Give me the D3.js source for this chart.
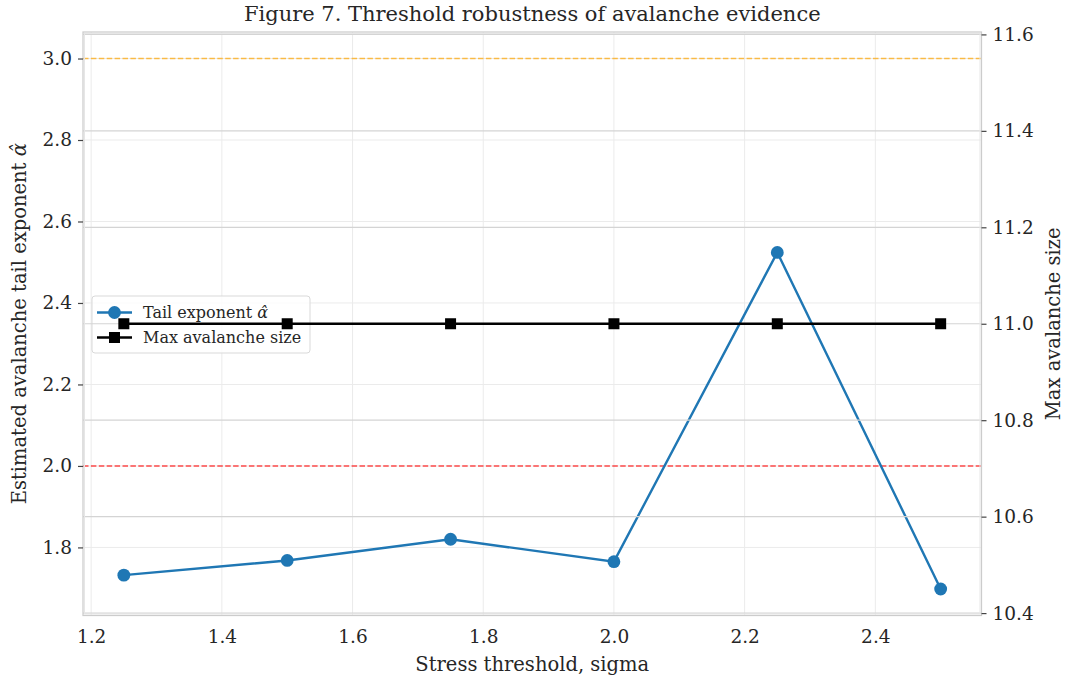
<!DOCTYPE html>
<html>
<head>
<meta charset="utf-8">
<script src="https://cdn.jsdelivr.net/npm/d3@7"></script>
<style>
  html, body { margin: 0; padding: 0; background: #fff; }
  svg { display: block; font-family: "DejaVu Serif", serif; }
</style>
</head>
<body>
<svg id="chart" width="1065" height="681"></svg>
<script>
// ---- data ----
const thresholds = [1.25, 1.5, 1.75, 2.0, 2.25, 2.5];
const tailExponent = [1.732, 1.768, 1.820, 1.765, 2.524, 1.698];
const maxAvalancheSize = [11, 11, 11, 11, 11, 11];
const xTicks = [1.2, 1.4, 1.6, 1.8, 2.0, 2.2, 2.4];
const leftTicks = [1.8, 2.0, 2.2, 2.4, 2.6, 2.8, 3.0];
const rightTicks = [10.4, 10.6, 10.8, 11.0, 11.2, 11.4, 11.6];
const refLines = [{ value: 3.0, color: "#ffa500" }, { value: 2.0, color: "#ff0000" }];
const legendLabels = ["Tail exponent ", "Max avalanche size"];

const svg = d3.select("#chart");
const L = 83, R = 981.5, T = 32, B = 615.5;
const textColor = "#262626";

const x = d3.scaleLinear().domain([1.1875, 2.5625]).range([L, R]);
const yL = d3.scaleLinear().domain([1.6329, 3.0651]).range([B, T]);
const yR = d3.scaleLinear().domain([10.395, 11.605]).range([B, T]);

function alphaHat(sel) {
  sel.append("tspan").attr("font-style", "italic").text("\u03B1\u0302");
}

// plot background
svg.append("rect").attr("x", L).attr("y", T).attr("width", R - L).attr("height", B - T).attr("fill", "#fff");

// left grid (light)
const g1 = svg.append("g");
g1.selectAll(".vg").data(xTicks).join("line")
  .attr("x1", d => x(d)).attr("x2", d => x(d)).attr("y1", T).attr("y2", B)
  .attr("stroke", "#ebebeb").attr("stroke-width", 1);
g1.selectAll(".hg").data(leftTicks).join("line")
  .attr("x1", L).attr("x2", R).attr("y1", d => yL(d)).attr("y2", d => yL(d))
  .attr("stroke", "#ebebeb").attr("stroke-width", 1);

// reference lines
svg.selectAll(".ref").data(refLines).join("line")
  .attr("x1", L).attr("x2", R).attr("y1", d => yL(d.value)).attr("y2", d => yL(d.value))
  .attr("stroke", d => d.color).attr("stroke-opacity", 0.7).attr("stroke-width", 1.5)
  .attr("stroke-dasharray", "5.5,2.4");

// tail exponent line
const lineL = d3.line().x((d, i) => x(thresholds[i])).y(d => yL(d));
svg.append("path").datum(tailExponent).attr("d", lineL)
  .attr("fill", "none").attr("stroke", "#1f77b4").attr("stroke-width", 2.4);
svg.selectAll(".dotL").data(tailExponent).join("circle")
  .attr("cx", (d, i) => x(thresholds[i])).attr("cy", d => yL(d)).attr("r", 6.4)
  .attr("fill", "#1f77b4");

// legend (belongs to left axes)
const lg = svg.append("g").attr("transform", "translate(92,296)");
lg.append("rect").attr("width", 218).attr("height", 57).attr("rx", 3)
  .attr("fill", "#fff").attr("fill-opacity", 0.8).attr("stroke", "#d9d9d9").attr("stroke-width", 1);
const items = [{ color: "#1f77b4", shape: "circle" }, { color: "#000", shape: "square" }];
items.forEach((it, i) => {
  const cy = 16.5 + i * 25;
  lg.append("line").attr("x1", 5).attr("x2", 40).attr("y1", cy).attr("y2", cy)
    .attr("stroke", it.color).attr("stroke-width", 2.4);
  if (it.shape === "circle") lg.append("circle").attr("cx", 22.5).attr("cy", cy).attr("r", 6.4).attr("fill", it.color);
  else lg.append("rect").attr("x", 17).attr("y", cy - 5.5).attr("width", 11).attr("height", 11).attr("fill", it.color);
  const t = lg.append("text").attr("x", 51).attr("y", cy).attr("dy", "0.35em")
    .attr("font-size", 16).attr("fill", textColor).text(legendLabels[i]);
  if (i === 0) alphaHat(t);
});

// right grid (darker), drawn by twin axes on top
svg.selectAll(".hgR").data(rightTicks).join("line")
  .attr("x1", L).attr("x2", R).attr("y1", d => yR(d)).attr("y2", d => yR(d))
  .attr("stroke", "#d4d4d4").attr("stroke-width", 1.2);

// max avalanche line
const lineR = d3.line().x((d, i) => x(thresholds[i])).y(d => yR(d));
svg.append("path").datum(maxAvalancheSize).attr("d", lineR)
  .attr("fill", "none").attr("stroke", "#000").attr("stroke-width", 2.4);
svg.selectAll(".sqR").data(maxAvalancheSize).join("rect")
  .attr("x", (d, i) => x(thresholds[i]) - 5.5).attr("y", d => yR(d) - 5.5)
  .attr("width", 11).attr("height", 11).attr("fill", "#000");

// frame
svg.append("rect").attr("x", L).attr("y", T).attr("width", R - L).attr("height", B - T)
  .attr("fill", "none").attr("stroke", "#cccccc").attr("stroke-width", 1.25);
svg.append("rect").attr("x", L + 1.5).attr("y", T + 1.5).attr("width", R - L - 3).attr("height", B - T - 3)
  .attr("fill", "none").attr("stroke", "#e6e6e6").attr("stroke-width", 1);

// axes
const axX = d3.axisBottom(x).tickValues(xTicks).tickFormat(d3.format(".1f")).tickSize(0).tickPadding(14);
const gx = svg.append("g").attr("transform", `translate(0,${B})`).call(axX);
const axL = d3.axisLeft(yL).tickValues(leftTicks).tickFormat(d3.format(".1f")).tickSize(5).tickPadding(6);
const gl = svg.append("g").attr("transform", `translate(${L},0)`).call(axL);
const axR = d3.axisRight(yR).tickValues(rightTicks).tickFormat(d3.format(".1f")).tickSize(5).tickPadding(6);
const gr = svg.append("g").attr("transform", `translate(${R},0)`).call(axR);
[gx, gl, gr].forEach(g => {
  g.select(".domain").remove();
  g.selectAll("text").attr("font-family", "DejaVu Serif").attr("font-size", 18.5).attr("fill", textColor);
  g.selectAll(".tick line").attr("stroke", "#444").attr("stroke-width", 1.2);
});

// titles
svg.append("text").attr("x", (L + R) / 2).attr("y", 21).attr("text-anchor", "middle")
  .attr("font-size", 21).attr("fill", textColor).text("Figure 7. Threshold robustness of avalanche evidence");
svg.append("text").attr("x", (L + R) / 2).attr("y", 671).attr("text-anchor", "middle")
  .attr("font-size", 19.5).attr("fill", textColor).text("Stress threshold, sigma");
const yl = svg.append("text").attr("transform", `translate(26,${(T + B) / 2}) rotate(-90)`).attr("text-anchor", "middle")
  .attr("font-size", 19.5).attr("fill", textColor).text("Estimated avalanche tail exponent ");
alphaHat(yl);
svg.append("text").attr("transform", `translate(1060,${(T + B) / 2}) rotate(-90)`).attr("text-anchor", "middle")
  .attr("font-size", 19.5).attr("fill", textColor).text("Max avalanche size");
</script>
</body>
</html>
